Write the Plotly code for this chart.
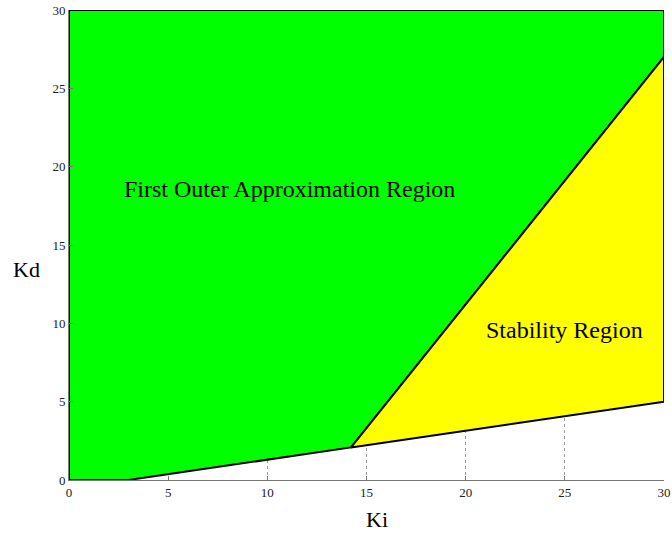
import plotly.graph_objects as go

# Data
outer_x = [0, 3, 14.22, 30, 30, 0, 0]
outer_y = [0, 0, 2.08, 27, 30, 30, 0]
stab_x = [14.22, 30, 30, 14.22]
stab_y = [2.08, 27, 5, 2.08]
tick_vals = [0, 5, 10, 15, 20, 25, 30]
labels = [("First Outer Approximation Region", 11.1, 18.6), ("Stability Region", 24.96, 9.6)]

font_family = "Liberation Serif, Times New Roman, serif"

fig = go.Figure()
fig.add_trace(go.Scatter(x=outer_x, y=outer_y, fill="toself", fillcolor="#00ff00",
                         mode="lines", line=dict(color="black", width=2), hoverinfo="skip"))
fig.add_trace(go.Scatter(x=stab_x, y=stab_y, fill="toself", fillcolor="#ffff00",
                         mode="lines", line=dict(color="black", width=2), hoverinfo="skip"))

for text, x, y in labels:
    fig.add_annotation(x=x, y=y, text=text, showarrow=False,
                       font=dict(family=font_family, size=24, color="black"))

fig.add_annotation(xref="paper", yref="paper", x=-0.071, y=0.447, text="Kd", showarrow=False,
                   xanchor="center", yanchor="middle",
                   font=dict(family=font_family, size=22, color="black"))
fig.add_annotation(xref="paper", yref="paper", x=0.518, y=-0.085, text="Ki", showarrow=False,
                   xanchor="center", yanchor="middle",
                   font=dict(family=font_family, size=22, color="black"))

axis_common = dict(
    tickvals=tick_vals, ticks="inside", ticklen=4, tickcolor="#777777",
    showline=True, linecolor="#777777", linewidth=1, mirror=False,
    showgrid=True, gridcolor="#999999", griddash="dot", gridwidth=1,
    zeroline=False, automargin=False,
    tickfont=dict(family=font_family, size=13, color="#222222"),
)
fig.update_xaxes(range=[0, 30], **axis_common)
fig.update_yaxes(range=[0, 30], **axis_common)

fig.update_layout(
    width=672, height=535, showlegend=False,
    margin=dict(l=69, r=8, t=10, b=55),
    plot_bgcolor="white", paper_bgcolor="white",
)
fig.write_html("out.html")
